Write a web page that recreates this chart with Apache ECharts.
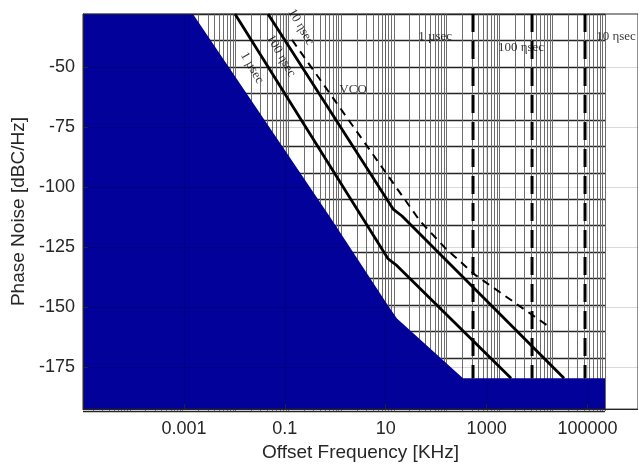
<!DOCTYPE html>
<html>
<head>
<meta charset="utf-8">
<script src="https://cdn.jsdelivr.net/npm/echarts@6/dist/echarts.min.js"></script>
<style>
  html, body { margin: 0; padding: 0; background: #fff; }
  #chart { width: 638px; height: 467px; }
</style>
</head>
<body>
<div id="chart"></div>
<script>
// offset frequency in KHz, phase noise in dBc/Hz

// blue region (reference floor)
const floorFreq = [0.00001, 0.00151, 0.787, 11.1, 16.7, 340, 222000];
const floorNoise = [-28, -28, -112.5, -149.4, -154.8, -179.7, -179.7];

// 1 usec curve
const usecFreq = [0.0103, 11.1, 16.7, 3050];
const usecNoise = [-28, -129.9, -132.8, -179.7];

// 100 nsec curve
const nsecFreq = [0.0465, 14.0, 21.0, 34200];
const nsecNoise = [-28, -109.2, -112.1, -179.7];

// VCO (dashed)
const vcoFreq = [0.139, 47.8, 150, 589, 18100];
const vcoNoise = [-38.8, -114.2, -125.4, -136.6, -158.5];

// vertical dashed markers (1 usec, 100 nsec, 10 nsec)
const markerFreq = [537, 7940, 89100];
const markerNoise = [-28, -179.7];

const xTicks = [0.001, 0.1, 10, 1000, 100000];
const yTicks = [-175, -150, -125, -100, -75, -50];

// text on the plot
const noteText = ['1 µsec', '100 ηsec', '10 ηsec', 'VCO', '1 µsec', '100 ηsec', '10 ηsec'];
const noteFreq = [95, 4800, 367000, 2.25, 0.0224, 0.0841, 0.209];
const noteNoise = [-37.5, -42.1, -37.5, -59.5, -50.4, -45.4, -33.4];
const noteAngle = [0, 0, 0, 0, -60, -60, -60];

const zip = (xs, ys) => xs.map((x, i) => [x, ys[i]]);

// log grid of the pasted plot (its own decades)
const pasteLines = [];
for (let n = 0; n < 10; n++) {
  for (let k = 1; k < 10; k++) {
    const v = k * Math.pow(10, n);
    if (v >= 1.3) pasteLines.push(v);
  }
}
pasteLines.push(1e10);

const chart = echarts.init(document.getElementById('chart'));

const axisText = {color: '#262626', fontSize: 18, fontFamily: 'Liberation Sans, Arial, sans-serif'};
const nameText = {color: '#262626', fontSize: 19, fontFamily: 'Liberation Sans, Arial, sans-serif'};
const gridLine = {show: true, lineStyle: {color: 'rgba(0,0,0,0.15)', width: 1}};

const option = {
  animation: false,
  backgroundColor: '#fff',
  grid: [
    {left: 83, right: 0, top: 14, bottom: 56, show: true, borderColor: '#262626', borderWidth: 1, backgroundColor: 'transparent'},
    {left: 83, right: 33, top: 14, bottom: 56}
  ],
  xAxis: [
    {
      type: 'log', logBase: 10, gridIndex: 0, min: 0.00001, max: 1000000,
      name: 'Offset Frequency [KHz]', nameLocation: 'middle', nameGap: 31, nameTextStyle: nameText,
      axisLine: {lineStyle: {color: '#262626', width: 1}},
      axisTick: {inside: true, length: 5, customValues: xTicks, lineStyle: {color: '#262626'}},
      axisLabel: Object.assign({customValues: xTicks, margin: 11,
        formatter: v => String(Number(v.toPrecision(6)))}, axisText),
      splitLine: gridLine,
      minorTick: {show: false}, minorSplitLine: {show: false}
    },
    {
      type: 'log', logBase: 10, gridIndex: 1, min: 1.3, max: 1e10, z: -3,
      axisLine: {show: false}, axisTick: {show: false}, axisLabel: {show: false},
      splitLine: {show: false}
    }
  ],
  yAxis: [
    {
      type: 'value', gridIndex: 0, min: -192.5, max: -28,
      name: 'Phase Noise [dBC/Hz]', nameLocation: 'middle', nameGap: 47, nameTextStyle: nameText,
      axisLine: {show: true, lineStyle: {color: '#262626', width: 1}},
      axisTick: {show: true, inside: true, length: 5, customValues: yTicks, lineStyle: {color: '#262626'}},
      axisLabel: Object.assign({customValues: yTicks, margin: 8}, axisText),
      splitLine: gridLine
    },
    {
      type: 'value', gridIndex: 1, min: 0, max: 15, interval: 1, z: -3,
      axisLine: {show: false}, axisTick: {show: false}, axisLabel: {show: false},
      splitLine: {show: true, lineStyle: {color: '#262626', width: 1.4}}
    }
  ],
  series: [
    {
      type: 'line', xAxisIndex: 1, yAxisIndex: 1, data: [], z: -3, silent: true,
      markLine: {
        z: -3, silent: true, symbol: ['none', 'none'], animation: false,
        label: {show: false},
        lineStyle: {color: '#6e6e6e', width: 1, type: 'solid'},
        data: pasteLines.map(v => ({xAxis: v}))
      }
    },
    {
      type: 'line', data: zip(floorFreq, floorNoise), z: -1, silent: true,
      symbol: 'none', lineStyle: {width: 0},
      areaStyle: {color: '#02029b', opacity: 1, origin: 'start'}
    },
    {
      type: 'line', data: zip(usecFreq, usecNoise), symbol: 'none', z: 3,
      lineStyle: {color: '#000', width: 2.8}
    },
    {
      type: 'line', data: zip(nsecFreq, nsecNoise), symbol: 'none', z: 3,
      lineStyle: {color: '#000', width: 2.8}
    },
    {
      type: 'line', data: zip(vcoFreq, vcoNoise), symbol: 'none', z: 3,
      lineStyle: {color: '#000', width: 2, type: [8, 6]}
    },
    ...markerFreq.map(f => ({
      type: 'line', data: markerNoise.map(n => [f, n]), symbol: 'none', z: 3,
      lineStyle: {color: '#000', width: 3, type: [18, 9]}
    })),
    {
      type: 'scatter', symbolSize: 0, z: 5, silent: true,
      data: noteText.map((t, i) => ({
        name: t, value: [noteFreq[i], noteNoise[i]],
        label: {rotate: noteAngle[i]}
      })),
      label: {
        show: true, position: 'inside', formatter: '{b}',
        color: '#000', fontSize: 13, fontFamily: 'Liberation Serif, Times New Roman, serif'
      }
    }
  ]
};

chart.setOption(option);
</script>
</body>
</html>
